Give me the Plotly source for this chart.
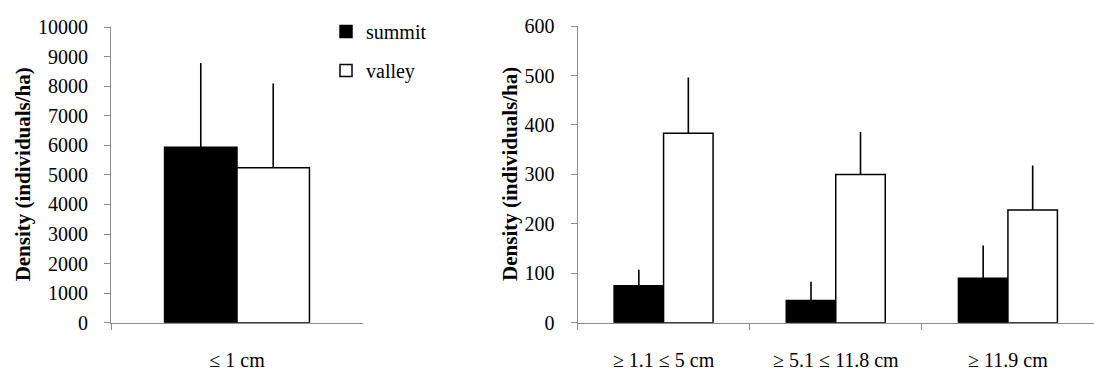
import plotly.graph_objects as go

# ---- data ----
left_cats = ["≤ 1 cm"]
left_summit = [5930]
left_summit_err = [2850]
left_valley = [5240]
left_valley_err = [2850]

right_cats = ["≥ 1.1 ≤ 5 cm", "≥ 5.1 ≤ 11.8 cm", "≥ 11.9 cm"]
right_summit = [75, 45, 90]
right_summit_err = [32, 38, 66]
right_valley = [383, 300, 228]
right_valley_err = [113, 86, 90]

y_title = "Density (individuals/ha)"
FONT = "Liberation Serif"
AXCOL = "#8c8c8c"
W, H = 1094, 378
TICK_FS = 20
TITLE_FS = 21


def err(vals):
    return dict(type="data", array=vals, arrayminus=[0] * len(vals), symmetric=False,
                width=0, thickness=1.6, color="black")


fig = go.Figure()
fig.add_trace(go.Bar(x=left_cats, y=left_summit, name="summit", legendgroup="s",
                     marker=dict(color="black", line=dict(color="black", width=1.5)),
                     error_y=err(left_summit_err), xaxis="x", yaxis="y"))
fig.add_trace(go.Bar(x=left_cats, y=left_valley, name="valley", legendgroup="v",
                     marker=dict(color="white", line=dict(color="black", width=1.5)),
                     error_y=err(left_valley_err), xaxis="x", yaxis="y"))
fig.add_trace(go.Bar(x=right_cats, y=right_summit, name="summit", showlegend=False,
                     marker=dict(color="black", line=dict(color="black", width=1.5)),
                     error_y=err(right_summit_err), xaxis="x2", yaxis="y2"))
fig.add_trace(go.Bar(x=right_cats, y=right_valley, name="valley", showlegend=False,
                     marker=dict(color="white", line=dict(color="black", width=1.5)),
                     error_y=err(right_valley_err), xaxis="x2", yaxis="y2"))

xcommon = dict(showline=True, linecolor=AXCOL, linewidth=1, ticks="outside", ticklen=6,
               tickcolor=AXCOL, tickson="boundaries", showgrid=False, zeroline=False,
               ticklabelstandoff=19, tickfont=dict(family=FONT, size=TICK_FS, color="black"))
ycommon = dict(showline=True, linecolor=AXCOL, linewidth=1, ticks="outside", ticklen=6,
               tickcolor=AXCOL, showgrid=False, zeroline=False, tickformat="d",
               ticklabelstandoff=12, tickfont=dict(family=FONT, size=TICK_FS, color="black"))

fig.update_layout(
    width=W, height=H,
    margin=dict(l=0, r=0, t=0, b=0),
    paper_bgcolor="white", plot_bgcolor="white",
    barmode="group", bargap=0.425, bargroupgap=0,
    font=dict(family=FONT, size=TICK_FS, color="black"),
    xaxis=dict(domain=[111 / W, 363 / W], anchor="y", range=[-0.5, 0.5], **xcommon),
    yaxis=dict(domain=[1 - 331 / H, 1 - 17 / H], anchor="x", range=[0, 10000], dtick=1000,
               **ycommon),
    xaxis2=dict(domain=[577.5 / W, 1.0], anchor="y2", range=[-0.5, 2.5], **xcommon),
    yaxis2=dict(domain=[1 - 331 / H, 1 - 16 / H], anchor="x2", range=[0, 600], dtick=100,
                **ycommon),
    legend=dict(x=326 / W, y=1 - 1 / H, xanchor="left", yanchor="top",
                font=dict(family=FONT, size=TICK_FS, color="black"), tracegroupgap=10,
                bgcolor="rgba(0,0,0,0)"),
    annotations=[
        dict(text="<b>" + y_title + "</b>", x=22.5 / W, y=1 - 174 / H, xref="paper", yref="paper",
             xanchor="center", yanchor="middle",
             textangle=-90, showarrow=False, font=dict(family=FONT, size=TITLE_FS, color="black")),
        dict(text="<b>" + y_title + "</b>", x=510 / W, y=1 - 173 / H, xref="paper", yref="paper",
             xanchor="center", yanchor="middle",
             textangle=-90, showarrow=False, font=dict(family=FONT, size=TITLE_FS, color="black")),
    ],
)

fig.write_html("out.html")
